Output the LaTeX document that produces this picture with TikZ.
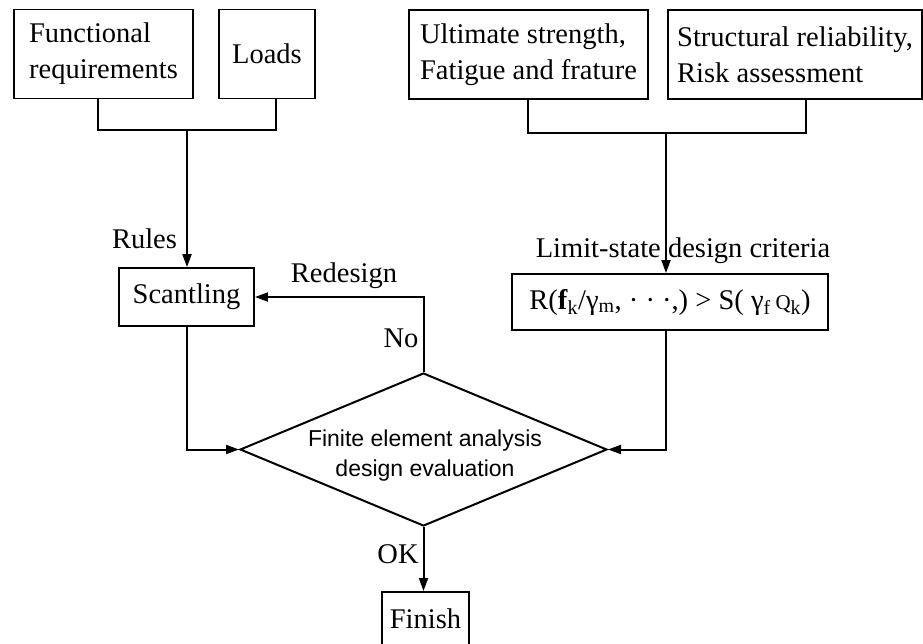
\documentclass[tikz,border=0pt]{standalone}
\usepackage{fontspec}
\setmainfont{Liberation Serif}
\newfontfamily\diafont{Liberation Sans}
\usetikzlibrary{arrows.meta,shapes.geometric}
\begin{document}
\begin{tikzpicture}[x=1pt,y=-1pt,
  box/.style={draw, line width=1.9pt, inner sep=4pt, font=\fontsize{28.5}{36}\selectfont, align=left},
  lab/.style={inner sep=0pt, anchor=base, font=\fontsize{28.5}{35}\selectfont},
  conn/.style={line width=2pt},
  arr/.style={conn, -{Triangle[length=13pt,width=9pt]}}]
\path[use as bounding box, clip] (0,0) rectangle (923,643);
% top boxes
\node[box, minimum width=179pt, minimum height=89pt] (fr) at (103.5,54) {Functional\\requirements};
\node[box, minimum width=96pt, minimum height=89pt] (loads) at (267,54) {Loads};
\node[box, minimum width=239pt, minimum height=89pt] (ult) at (528.5,54.5) {Ultimate strength,\\Fatigue and frature};
\node[box, minimum width=254pt, minimum height=89pt] (sr) at (795,54.5) {Structural reliability,\\Risk assessment};
% middle boxes
\node[box, minimum width=135pt, minimum height=58pt] (sc) at (186.5,297) {Scantling};
\node[box, minimum width=316pt, minimum height=56pt] (rb) at (670,302) {R(\textbf{f}\textsubscript{k}/γ\textsubscript{m}, · · ·,) > S( γ\textsubscript{f}\,{\fontsize{21}{21}\selectfont Q}\textsubscript{k})};
% decision
\node[diamond, draw, line width=2pt, aspect=2.39, minimum width=367pt, minimum height=153pt, inner sep=0pt] (dia) at (423.5,449.5) {};
\node[font=\diafont\fontsize{23}{30}\selectfont, align=center, inner sep=0pt] (diat) at (425,456) {Finite element analysis\\design evaluation};
% finish
\node[box, minimum width=87pt, minimum height=54pt, anchor=north] (fin) at (425.5,591) {Finish};
% labels
\node[lab] (rules) at (144.5,248) {Rules};
\node[lab] (redesign) at (344,282) {Redesign};
\node[lab] (no) at (401,347) {No};
\node[lab] (lsd) at (683,257) {Limit-state design criteria};
\node[lab] (ok) at (398,563) {OK};
% junctions
\coordinate (fl) at (97.5,130);
\coordinate (lr) at (276,130);
\coordinate (jl) at (187,130);
\coordinate (ul) at (528,133);
\coordinate (srj) at (806,133);
\coordinate (jr) at (666,133);
% connectors
\draw[conn] (fl |- fr.south) -- (fl) -- (lr) -- (lr |- loads.south);
\draw[arr] (jl) -- (jl |- sc.north);
\draw[conn] (ul |- ult.south) -- (ul) -- (srj) -- (srj |- sr.south);
\draw[arr] (jr) -- (jr |- rb.north);
\draw[arr] (jr |- rb.south) |- (dia.east);
\draw[arr] (sc.south) |- (dia.west);
\draw[arr] (dia.north) |- (sc.east);
\draw[arr] (dia.south) -- (dia.south |- fin.north);
\end{tikzpicture}
\end{document}
